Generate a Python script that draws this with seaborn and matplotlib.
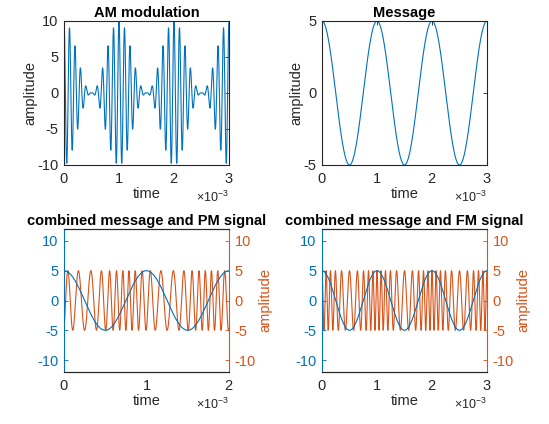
import numpy as np
import pandas as pd
import matplotlib
matplotlib.use("Agg")
import matplotlib.pyplot as plt
import seaborn as sns
from matplotlib.ticker import ScalarFormatter

# ---- signal parameters ----
msg_amp = 5.0          # message amplitude
msg_freq = 1000.0      # message frequency (Hz): period 1 ms
carrier_amp = 5.0      # carrier amplitude
carrier_freq = 10000.0 # carrier frequency (Hz): ~10 cycles per ms
pm_phase_dev = 3.5     # PM peak phase deviation (rad)
fm_freq_dev = 3500.0   # FM peak frequency deviation (Hz)
sample_rate = 5e5
t_end_am = 3e-3
t_end_pm = 2e-3
t_end_fm = 3e-3

titles = ["AM modulation", "Message",
          "combined message and PM signal", "combined message and FM signal"]
xticks_3 = [0, 1e-3, 2e-3, 3e-3]
xticks_2 = [0, 1e-3, 2e-3]
yticks_am = [-10, -5, 0, 5, 10]
yticks_msg = [-5, 0, 5]
yticks_mod = [-10, -5, 0, 5, 10]

BLUE = "#0072BD"
ORANGE = "#D95319"
DARK = "#262626"

sns.set_theme(style="white")
plt.rcParams["font.family"] = ["Liberation Sans", "DejaVu Sans"]
plt.rcParams["mathtext.fontset"] = "custom"
plt.rcParams["mathtext.rm"] = "Liberation Sans"
plt.rcParams["mathtext.it"] = "Liberation Sans:italic"
plt.rcParams["axes.unicode_minus"] = False
plt.rcParams["axes.edgecolor"] = DARK
plt.rcParams["axes.linewidth"] = 0.8

t3 = np.arange(0, t_end_am + 0.5 / sample_rate, 1 / sample_rate)
t2 = np.arange(0, t_end_pm + 0.5 / sample_rate, 1 / sample_rate)
tf = np.arange(0, t_end_fm + 0.5 / sample_rate, 1 / sample_rate)

def message(t):
    return msg_amp * np.cos(2 * np.pi * msg_freq * t)

am_df = pd.DataFrame({"time": t3,
                      "amp": (carrier_amp + message(t3)) * np.cos(2 * np.pi * carrier_freq * t3)})
msg_df = pd.DataFrame({"time": t3, "amp": message(t3)})
pm_msg_df = pd.DataFrame({"time": t2, "amp": message(t2)})
pm_df = pd.DataFrame({"time": t2,
                      "amp": carrier_amp * np.cos(2 * np.pi * carrier_freq * t2
                                                  + pm_phase_dev / msg_amp * message(t2))})
fm_msg_df = pd.DataFrame({"time": tf, "amp": message(tf)})
fm_phase = 2 * np.pi * fm_freq_dev / msg_amp * np.cumsum(message(tf)) / sample_rate
fm_df = pd.DataFrame({"time": tf,
                      "amp": carrier_amp * np.cos(2 * np.pi * carrier_freq * tf + fm_phase)})

fig = plt.figure(figsize=(5.49, 4.24), dpi=100)
W, H = 549, 424
def rect(l, t, r, b):
    return [l / W, 1 - b / H, (r - l) / W, (b - t) / H]

ax_am = fig.add_axes(rect(64, 21, 229, 165))
ax_msg = fig.add_axes(rect(322, 21, 487, 165))
ax_pm = fig.add_axes(rect(64, 229, 229, 372))
ax_fm = fig.add_axes(rect(322, 229, 487, 372))

FS = 10.5

def style_x(ax, xmax, ticks):
    ax.set_xlim(0, xmax)
    ax.set_xticks(ticks)
    fmt = ScalarFormatter(useMathText=True)
    fmt.set_powerlimits((-3, -3))
    ax.xaxis.set_major_formatter(fmt)
    ax.xaxis.get_offset_text().set_fontsize(9)
    ax.xaxis.get_offset_text().set_color(DARK)
    ax.set_xlabel("time", fontsize=FS, color=DARK, labelpad=1)

def title(ax, s):
    ax.set_title(s, fontsize=10.5, fontweight="bold", color="black", pad=3)

# AM
sns.lineplot(data=am_df, x="time", y="amp", ax=ax_am, color=BLUE, linewidth=0.8, estimator=None)
# Message
sns.lineplot(data=msg_df, x="time", y="amp", ax=ax_msg, color=BLUE, linewidth=0.8, estimator=None)

for ax, yt, yl, xt, xm, ti in [(ax_am, yticks_am, (-10, 10), xticks_3, 3e-3, titles[0]),
                                (ax_msg, yticks_msg, (-5, 5), xticks_3, 3e-3, titles[1])]:
    style_x(ax, xm, xt)
    ax.set_ylim(*yl)
    ax.set_yticks(yt)
    ax.set_ylabel("amplitude", fontsize=FS, color=DARK, labelpad=0)
    ax.tick_params(axis="x", direction="in", length=3, width=0.6, labelsize=FS, colors=DARK,
                   top=True, pad=5)
    ax.tick_params(axis="y", direction="in", length=3, width=0.6, labelsize=FS, colors=DARK,
                   right=True, pad=4)
    title(ax, ti)

# PM and FM with twin axes
for ax, mdf, cdf, xt, xm, ti in [(ax_pm, pm_msg_df, pm_df, xticks_2, 2e-3, titles[2]),
                                  (ax_fm, fm_msg_df, fm_df, xticks_3, 3e-3, titles[3])]:
    ax2 = ax.twinx()
    sns.lineplot(data=mdf, x="time", y="amp", ax=ax, color=BLUE, linewidth=0.8, estimator=None)
    sns.lineplot(data=cdf, x="time", y="amp", ax=ax2, color=ORANGE, linewidth=0.8, estimator=None)
    ax.set_zorder(ax2.get_zorder() + 1)
    ax.patch.set_visible(False)
    style_x(ax, xm, xt)
    for a in (ax, ax2):
        a.set_ylim(-12, 12)
        a.set_yticks(yticks_mod)
    ax.set_ylabel("")
    ax2.set_ylabel("amplitude", fontsize=FS, color=ORANGE, labelpad=2)
    ax.tick_params(axis="x", direction="in", length=3, width=0.6, labelsize=FS, colors=DARK, pad=5)
    ax.tick_params(axis="y", direction="in", length=3, width=0.6, labelsize=FS, colors=BLUE, pad=4)
    ax2.tick_params(axis="y", direction="in", length=3, width=0.6, labelsize=FS, colors=ORANGE, pad=4)
    ax.spines["left"].set_color(BLUE)
    ax.spines["right"].set_visible(False)
    ax2.spines["left"].set_visible(False)
    ax2.spines["right"].set_color(ORANGE)
    title(ax, ti)

fig.savefig("out.png", dpi=100)
